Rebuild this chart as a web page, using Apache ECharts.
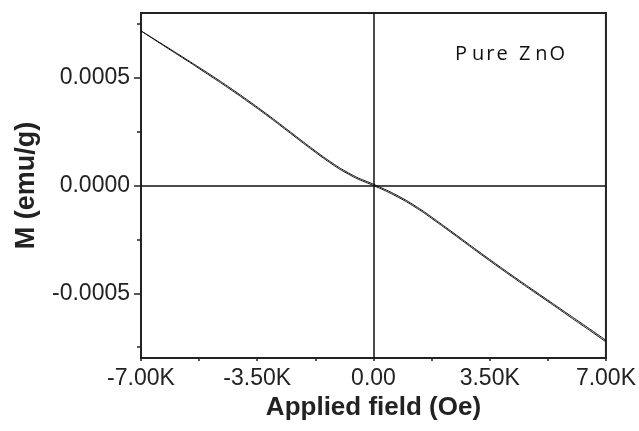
<!DOCTYPE html>
<html>
<head>
<meta charset="utf-8">
<script src="https://cdn.jsdelivr.net/npm/echarts@6/dist/echarts.min.js"></script>
<style>html,body{margin:0;padding:0;background:#fff}#c{width:639px;height:431px}</style>
</head>
<body>
<div id="c"></div>
<script>
// Applied field (Oe)
const fieldValues = [-7000,-6500,-6000,-5500,-5000,-4500,-4000,-3500,-3000,-2500,-2000,-1500,-1000,-500,0,500,1000,1500,2000,2500,3000,3500,4000,4500,5000,5500,6000,6500,7000];
// Descending branch M (emu/g)
const branchDown = [0.000717,0.000669,0.000621,0.000572,0.000523,0.000472,0.000419,0.000364,0.000307,0.000248,0.000189,0.000132,0.000080,0.000038,0.000006,-0.000029,-0.000070,-0.000119,-0.000174,-0.000230,-0.000287,-0.000343,-0.000398,-0.000452,-0.000505,-0.000558,-0.000611,-0.000664,-0.000718];
// Ascending branch M (emu/g)
const branchUp = [0.000717,0.000667,0.000617,0.000568,0.000517,0.000466,0.000413,0.000358,0.000301,0.000242,0.000183,0.000126,0.000074,0.000032,0.000000,-0.000035,-0.000076,-0.000125,-0.000180,-0.000236,-0.000293,-0.000349,-0.000404,-0.000458,-0.000511,-0.000564,-0.000618,-0.000671,-0.000725];
const yMajorTicks = [-0.0005, 0, 0.0005];
const yMinorTicks = [-0.00075, -0.00025, 0.00025, 0.00075];
const xLabelValues = [-7000, -3500, 0, 3500, 7000];
const sampleLabel = 'Pure ZnO';
const xTitle = 'Applied field (Oe)';
const yTitle = 'M (emu/g)';

const pairs = (xs, ys) => xs.map((x, i) => [x, ys[i]]);
const font = 'Liberation Sans, Arial, sans-serif';

// letter-spaced sample label as rich text
const charGaps = [5, 2, 2, 2, 4, 5, 2, 0];
const rich = {};
const labelText = sampleLabel.split('').map((ch, i) => {
  rich['c' + i] = {font: '20px "Open Sans", sans-serif', fontSize: 20, fontFamily: 'Open Sans', fill: '#111', padding: [0, charGaps[i] || 0, 0, 0]};
  return '{c' + i + '|' + ch + '}';
}).join('');

const chart = echarts.init(document.getElementById('c'), null, {renderer: 'canvas'});
chart.setOption({
  animation: false,
  backgroundColor: '#fff',
  grid: {left: 141, right: 28, top: 13, bottom: 73, show: true, borderColor: '#222', borderWidth: 2, backgroundColor: 'transparent'},
  graphic: [{
    type: 'text', left: 455, top: 44,
    style: {text: labelText, rich: rich, font: '20px "Open Sans", sans-serif', fill: '#111'}
  }],
  xAxis: {
    type: 'value', min: -7000, max: 7000, interval: 1750,
    name: xTitle, nameLocation: 'middle', nameGap: 28,
    nameTextStyle: {fontFamily: font, fontWeight: 'bold', fontSize: 26, color: '#222'},
    axisLine: {onZero: false, lineStyle: {color: '#222', width: 2}},
    axisTick: {show: true, length: 3, inside: false, lineStyle: {color: '#222', width: 1.5}},
    axisLabel: {
      margin: 9, fontFamily: font, fontSize: 23, color: '#222',
      formatter: v => xLabelValues.includes(v) ? (v === 0 ? '0.00' : (v / 1000).toFixed(2) + 'K') : ''
    },
    splitLine: {show: false}
  },
  yAxis: [{
    type: 'value', min: -0.0008, max: 0.0008,
    name: yTitle, nameLocation: 'middle', nameGap: 101,
    nameTextStyle: {fontFamily: font, fontWeight: 'bold', fontSize: 27, color: '#222'},
    axisLine: {onZero: false, lineStyle: {color: '#222', width: 2}},
    axisTick: {show: true, length: 7, customValues: yMajorTicks, lineStyle: {color: '#222', width: 1.5}},
    axisLabel: {margin: 11, fontFamily: font, fontSize: 23, color: '#222', customValues: yMajorTicks, formatter: v => v.toFixed(4)},
    splitLine: {show: false}
  }, {
    type: 'value', min: -0.0008, max: 0.0008, position: 'left',
    axisLine: {show: false, onZero: false},
    axisTick: {show: true, length: 4, customValues: yMinorTicks, lineStyle: {color: '#222', width: 1.5}},
    axisLabel: {show: false},
    splitLine: {show: false}
  }],
  series: [{
    type: 'line', data: pairs(fieldValues, branchDown), showSymbol: false, symbol: 'none', smooth: 0.2,
    lineStyle: {color: '#111', width: 1}, z: 3,
    markLine: {
      silent: true, symbol: 'none', label: {show: false},
      lineStyle: {color: '#111', width: 1.5, type: 'solid'},
      data: [{xAxis: 0}, {yAxis: 0}]
    }
  }, {
    type: 'line', data: pairs(fieldValues, branchUp), showSymbol: false, symbol: 'none', smooth: 0.2,
    lineStyle: {color: '#111', width: 1}, z: 3
  }]
});
</script>
</body>
</html>
